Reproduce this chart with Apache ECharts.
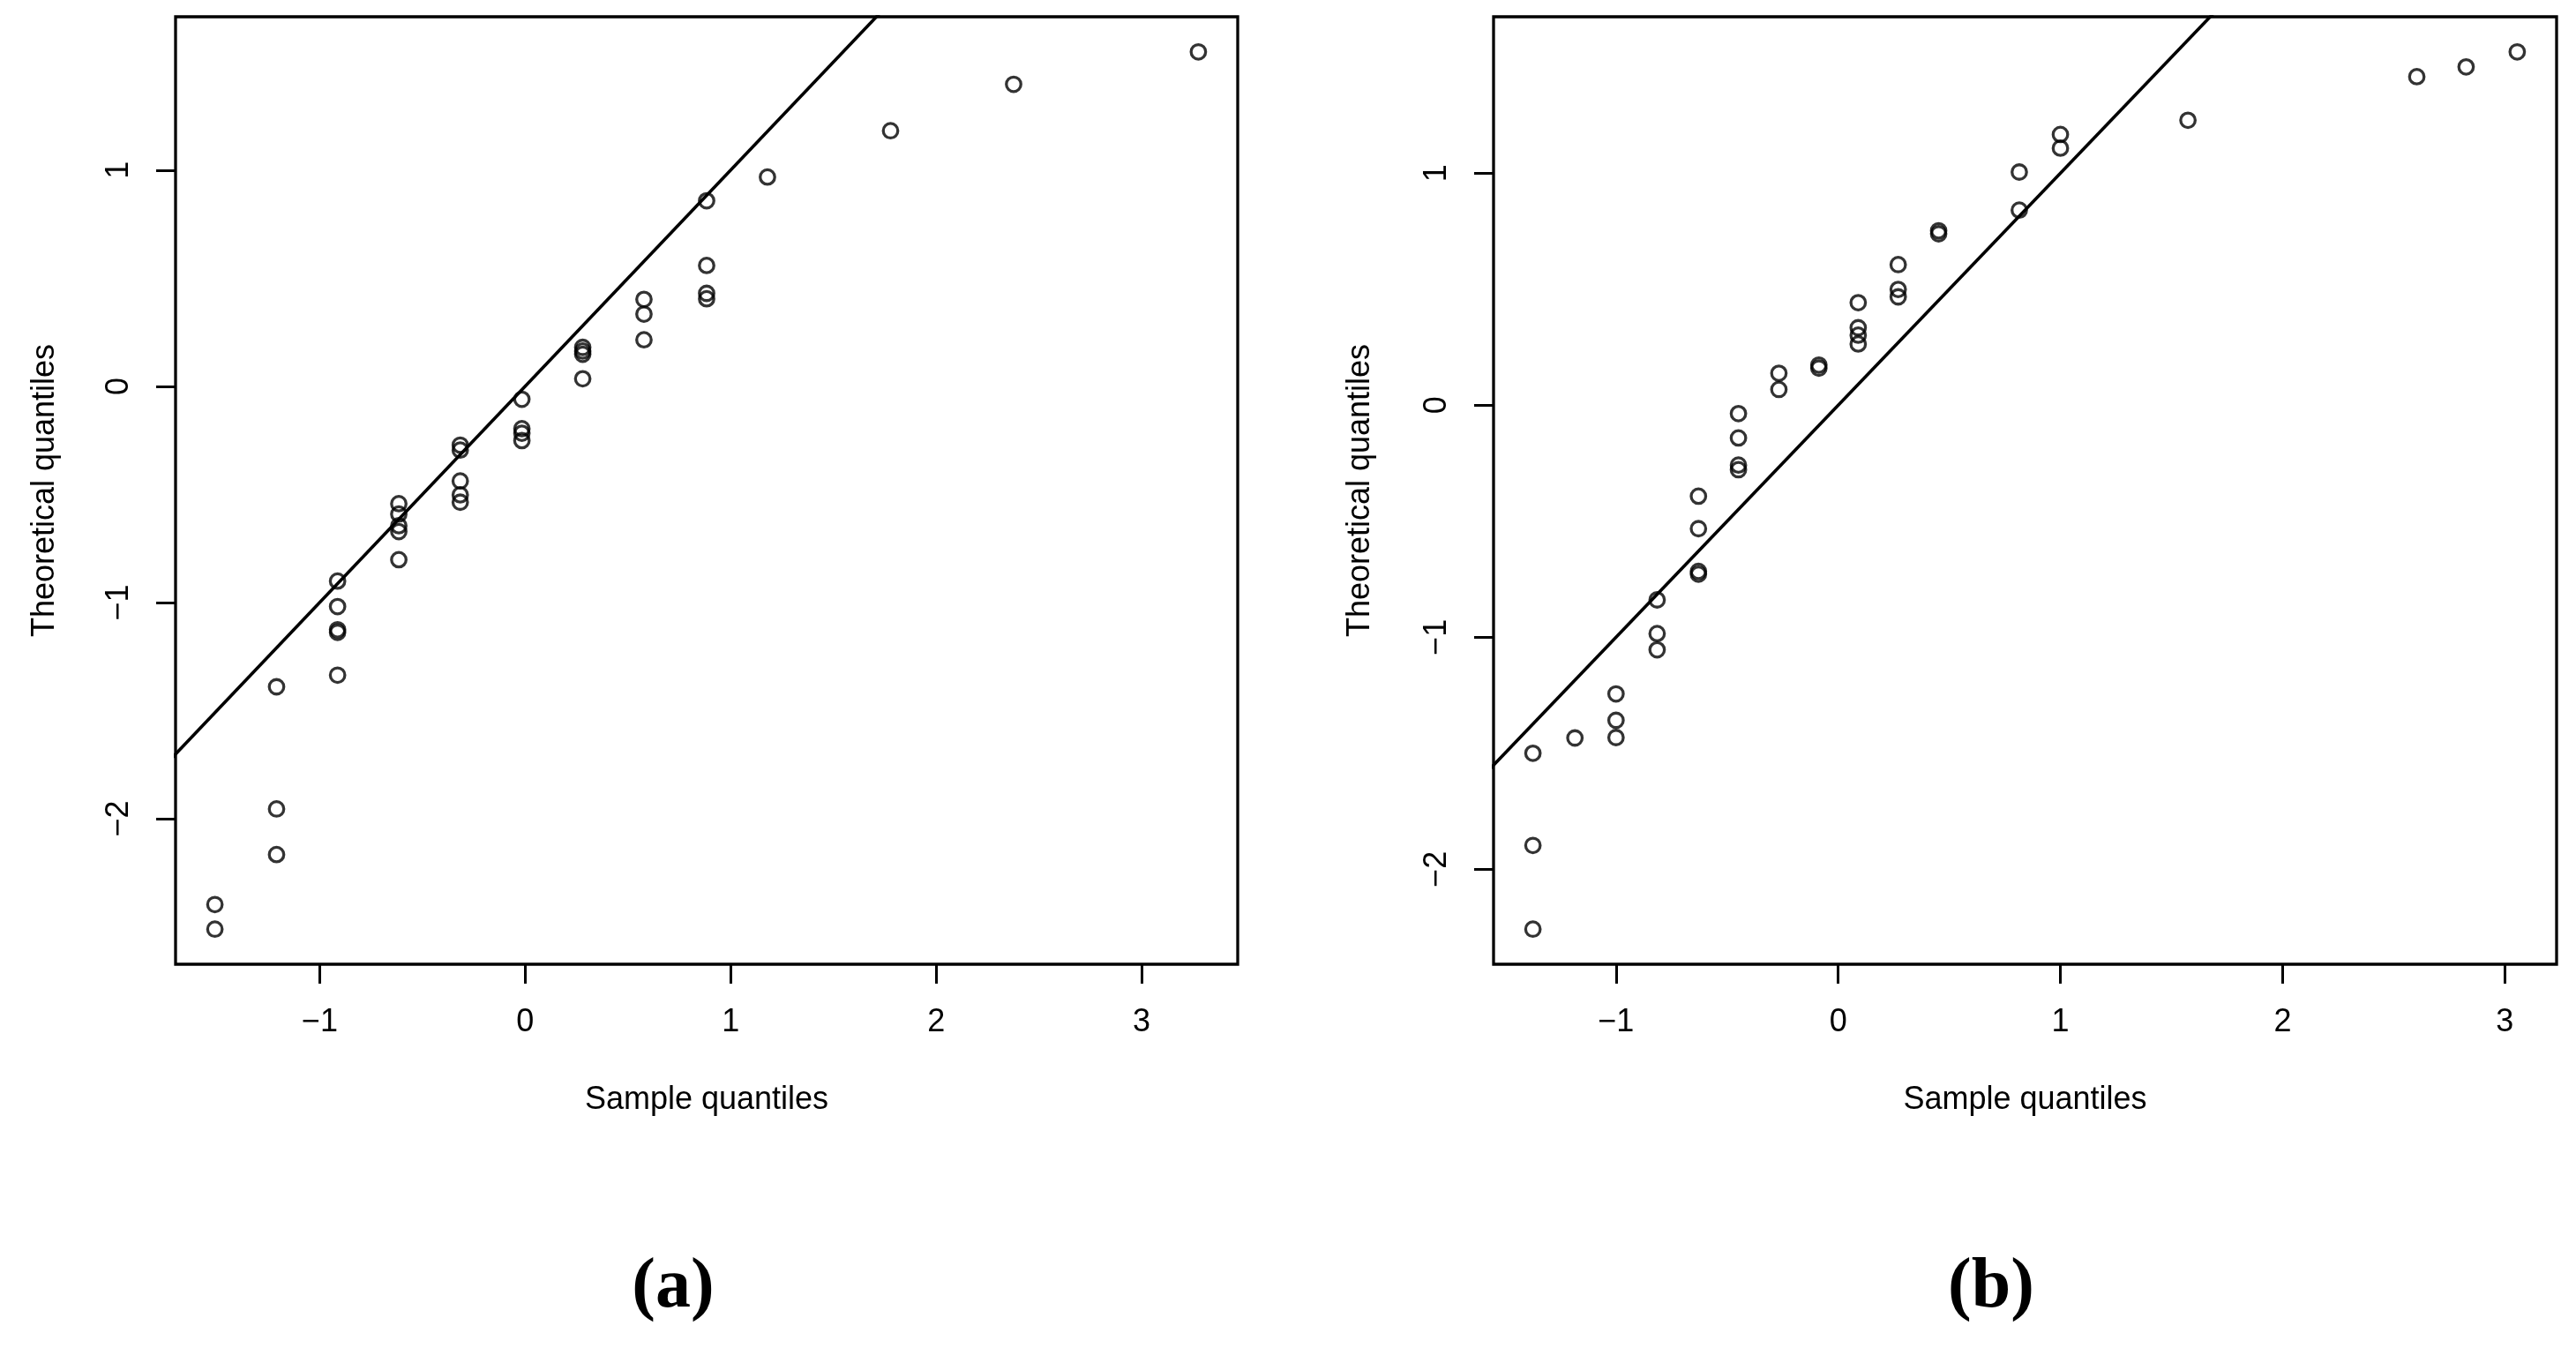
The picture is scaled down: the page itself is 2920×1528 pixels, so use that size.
<!DOCTYPE html>
<html style="height: 100%">
<head>
<meta charset="utf-8">
<script src="https://cdn.jsdelivr.net/npm/echarts@6/dist/echarts.min.js"></script>
</head>
<body style="height: 100%; margin: 0; background: #fff">
<div id="container" style="width: 2920px; height: 1528px"></div>
<script>

// panel (a): sample quantile (x) and theoretical quantile (y) of each point
var sampleA = [-1.51, -1.51,
    -1.21, -1.21, -1.21,
    -0.913, -0.913, -0.913, -0.913, -0.913,
    -0.615, -0.615, -0.615, -0.615, -0.615,
    -0.316, -0.316, -0.316, -0.316, -0.316,
    -0.016, -0.016, -0.016, -0.016,
    0.28, 0.28, 0.28, 0.28,
    0.578, 0.578, 0.578,
    0.883, 0.883, 0.883, 0.883,
    1.179, 1.778, 2.377, 3.276];
var theorA = [-2.511, -2.397,
    -2.166, -1.955, -1.390,
    -1.336, -1.138, -1.126, -1.019, -0.901,
    -0.802, -0.672, -0.645, -0.591, -0.543,
    -0.536, -0.502, -0.438, -0.295, -0.272,
    -0.251, -0.217, -0.196, -0.060,
    0.035, 0.148, 0.163, 0.180,
    0.215, 0.334, 0.402,
    0.405, 0.430, 0.559, 0.858,
    0.968, 1.182, 1.397, 1.547];

// panel (b)
var sampleB = [-1.374, -1.374, -1.374,
    -1.185,
    -1.0, -1.0, -1.0,
    -0.815, -0.815, -0.815,
    -0.629, -0.629, -0.629, -0.629,
    -0.449, -0.449, -0.449, -0.449,
    -0.267, -0.267,
    -0.087, -0.087,
    0.09, 0.09, 0.09, 0.09,
    0.27, 0.27, 0.27,
    0.452, 0.452,
    0.815, 0.815,
    1.0, 1.0,
    1.574, 2.604, 2.826, 3.056];
var theorB = [-2.258, -1.897, -1.500,
    -1.434,
    -1.432, -1.358, -1.244,
    -1.054, -0.984, -0.839,
    -0.728, -0.716, -0.532, -0.392,
    -0.278, -0.258, -0.141, -0.036,
    0.068, 0.138,
    0.160, 0.173,
    0.264, 0.302, 0.334, 0.442,
    0.467, 0.499, 0.606,
    0.739, 0.752,
    0.841, 1.005,
    1.108, 1.167,
    1.228, 1.416, 1.458, 1.523];

var xTicks = [-1, 0, 1, 2, 3];
var yTicks = [-2, -1, 0, 1];
var refLine = [-5, 5];   // reference line y = x, clipped by the grid

var font = 'Liberation Sans, Arial, Helvetica, sans-serif';

function pairs(xs, ys) {
    return xs.map(function (x, i) { return [x, ys[i]]; });
}

// R pads the data range by 4% on both ends
function padded(vals) {
    var lo = Math.min.apply(null, vals), hi = Math.max.apply(null, vals);
    var p = (hi - lo) * 0.04;
    return [lo - p, hi + p];
}

function minus(v) {
    return String(v).replace('-', '\u2212');
}

var tickStyle = {color: '#000', width: 3};
var textStyle = {fontFamily: font, fontSize: 36, color: '#000'};

function xAxisFor(i, vals) {
    var r = padded(vals);
    return {
        type: 'value', gridIndex: i, min: r[0], max: r[1],
        name: 'Sample quantiles', nameLocation: 'middle', nameGap: 136,
        nameTextStyle: textStyle,
        splitLine: {show: false},
        axisLine: {show: false, onZero: false},
        axisTick: {show: true, length: 22, lineStyle: tickStyle, customValues: xTicks},
        axisLabel: {margin: 48, fontFamily: font, fontSize: 36, color: '#000',
            customValues: xTicks, formatter: minus}
    };
}

function yAxisFor(i, vals, gap) {
    var r = padded(vals);
    return {
        type: 'value', gridIndex: i, min: r[0], max: r[1],
        name: 'Theoretical quantiles', nameLocation: 'middle', nameGap: gap,
        nameTextStyle: textStyle,
        splitLine: {show: false},
        axisLine: {show: false, onZero: false},
        axisTick: {show: true, length: 22, lineStyle: tickStyle, customValues: yTicks},
        axisLabel: {margin: 46, rotate: 90, fontFamily: font, fontSize: 36, color: '#000',
            customValues: yTicks, formatter: minus}
    };
}

function pointSeries(i, xs, ys) {
    return {
        type: 'scatter', xAxisIndex: i, yAxisIndex: i,
        data: pairs(xs, ys),
        symbol: 'circle', symbolSize: 16.5,
        itemStyle: {color: 'rgba(0,0,0,0)', borderColor: '#000', borderWidth: 3.3},
        emphasis: {disabled: true}, silent: true
    };
}

function lineSeries(i) {
    return {
        type: 'line', xAxisIndex: i, yAxisIndex: i,
        data: pairs(refLine, refLine),
        showSymbol: false, clip: true, z: 3,
        lineStyle: {color: '#000', width: 3.6},
        emphasis: {disabled: true}, silent: true
    };
}

var gridBox = {show: true, borderColor: '#000', borderWidth: 3.3, backgroundColor: 'rgba(0,0,0,0)'};

var dom = document.getElementById('container');
var myChart = echarts.init(dom, null, {renderer: 'canvas'});

var option = {
    backgroundColor: '#fff',
    animation: false,
    grid: [
        Object.assign({left: 199, top: 19, width: 1204, height: 1074}, gridBox),
        Object.assign({left: 1693, top: 19, width: 1205, height: 1074}, gridBox)
    ],
    xAxis: [xAxisFor(0, sampleA), xAxisFor(1, sampleB)],
    yAxis: [yAxisFor(0, theorA, 130), yAxisFor(1, theorB, 133)],
    series: [
        pointSeries(0, sampleA, theorA),
        lineSeries(0),
        pointSeries(1, sampleB, theorB),
        lineSeries(1)
    ],
    graphic: [
        {type: 'text', x: 763, y: 1460, style: {text: '(a)', fontFamily: 'Liberation Serif, Times New Roman, serif',
            fontWeight: 'bold', fontSize: 80, fill: '#000', align: 'center', verticalAlign: 'middle'}},
        {type: 'text', x: 2257, y: 1460, style: {text: '(b)', fontFamily: 'Liberation Serif, Times New Roman, serif',
            fontWeight: 'bold', fontSize: 80, fill: '#000', align: 'center', verticalAlign: 'middle'}}
    ]
};

if (option && typeof option === 'object') {
    myChart.setOption(option);
}
</script>
</body>
</html>
